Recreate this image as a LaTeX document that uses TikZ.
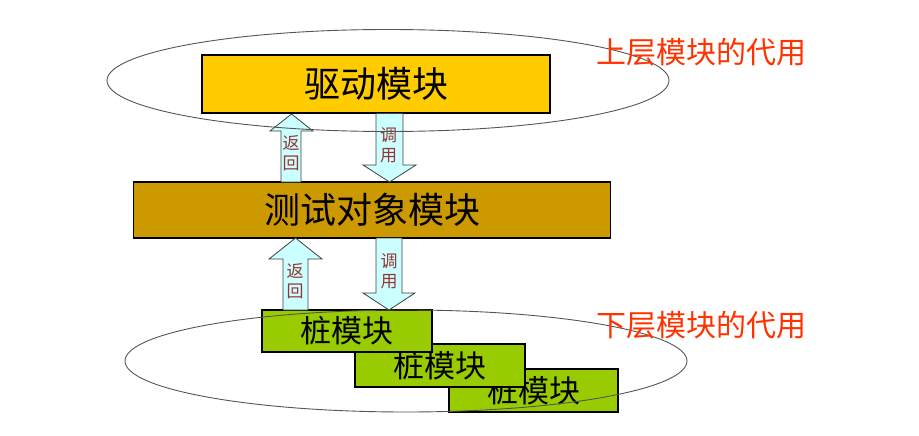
\documentclass[tikz,border=0pt]{standalone}
\usepackage{fontspec}
\setmainfont{Noto Sans CJK SC}
\definecolor{drvyellow}{HTML}{FFCC00}
\definecolor{objbrown}{HTML}{CC9900}
\definecolor{stubgreen}{HTML}{99CC00}
\definecolor{arrowfill}{HTML}{CCFFFF}
\definecolor{labelred}{HTML}{FF3300}
\definecolor{arrowtext}{HTML}{993333}
\definecolor{ringgray}{HTML}{555555}
\begin{document}
\begin{tikzpicture}[x=1pt,y=-1pt,
  modbox/.style={draw=black,line width=1.1pt,inner sep=0pt,anchor=center},
  blockarrow/.style={draw=black!75,line width=0.8pt,fill=arrowfill},
  arrowlabel/.style={text=arrowtext,font=\fontsize{17}{20}\selectfont,align=center,inner sep=0pt},
  sidelabel/.style={text=labelred,font=\fontsize{30}{30}\selectfont,inner sep=0pt},
  ring/.style={draw=ringgray,line width=0.9pt}]
\useasboundingbox (0,0) rectangle (919,436);
% boxes
\node[modbox,fill=drvyellow,minimum width=348pt,minimum height=58pt,font=\fontsize{36}{36}\selectfont] (drv) at (376,84) {驱动模块};
\node[modbox,fill=objbrown,minimum width=477pt,minimum height=56pt,font=\fontsize{36}{36}\selectfont] (obj) at (372,210) {测试对象模块};
\node[modbox,fill=stubgreen,minimum width=169pt,minimum height=43pt,font=\fontsize{31}{31}\selectfont] (stubc) at (533.5,390.5) {桩模块};
\node[modbox,fill=stubgreen,minimum width=170pt,minimum height=43pt,font=\fontsize{31}{31}\selectfont] (stubb) at (440,365.5) {桩模块};
\node[modbox,fill=stubgreen,minimum width=170pt,minimum height=42pt,font=\fontsize{31}{31}\selectfont] (stuba) at (347,331) {桩模块};
% block arrows (upper)
\draw[blockarrow] (281,182) -- (281,131) -- (270,131) -- (291.5,114) -- (313,131) -- (301,131) -- (301,182) -- cycle;
\draw[blockarrow] (376,113.5) -- (376,165) -- (363,165) -- (389.5,182) -- (416,165) -- (403,165) -- (403,113.5) -- cycle;
% block arrows (lower)
\draw[blockarrow] (283,310) -- (283,259) -- (269,259) -- (295.5,238) -- (322,259) -- (308,259) -- (308,310) -- cycle;
\draw[blockarrow] (376,238) -- (376,293) -- (363,293) -- (389,310) -- (415,293) -- (402,293) -- (402,238) -- cycle;
% arrow labels
\node[arrowlabel] (ret1) at (291,153.5) {返\\回};
\node[arrowlabel] (call1) at (388.5,145.5) {调\\用};
\node[arrowlabel] (ret2) at (295,281) {返\\回};
\node[arrowlabel] (call2) at (389,271) {调\\用};
% rings
\draw[ring] (388,80.5) ellipse [x radius=281, y radius=51];
\draw[ring] (406,361) ellipse [x radius=281, y radius=51];
% side labels
\node[sidelabel] (upper) at (701,52) {上层模块的代用};
\node[sidelabel] (lower) at (701,325) {下层模块的代用};
\end{tikzpicture}
\end{document}
